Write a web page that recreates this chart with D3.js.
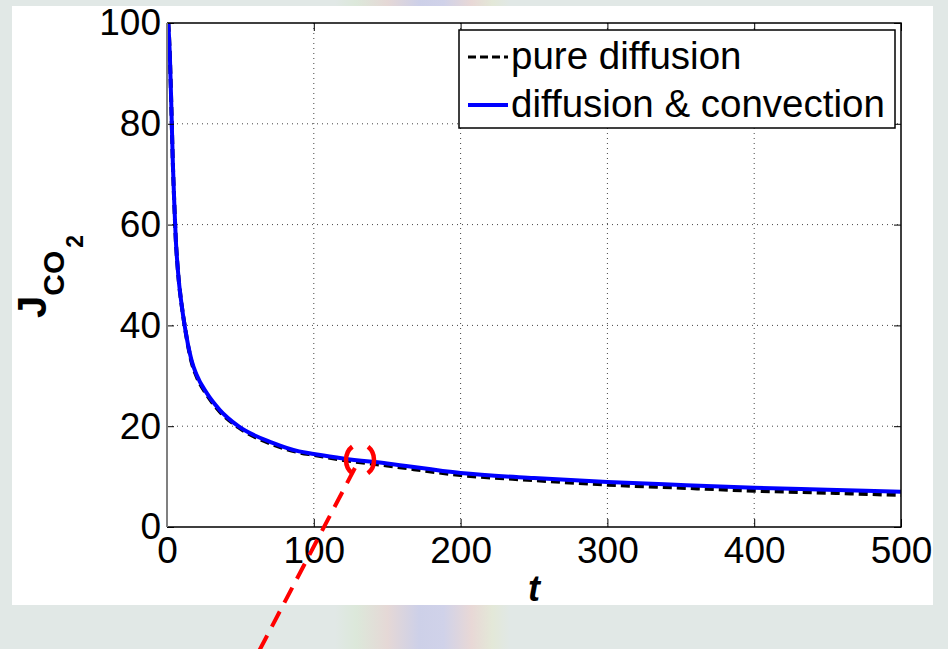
<!DOCTYPE html>
<html>
<head>
<meta charset="utf-8">
<script src="https://cdn.jsdelivr.net/npm/d3@7"></script>
<style>
    body { margin: 0; background: #e1e8e6; }
    svg { display: block; font-family: "Liberation Sans", Arial, sans-serif; }
</style>
</head>
<body>
<div id="chart"></div>
<script>
// data
const tValues     = [0.9, 2, 3, 4, 5, 6, 7, 8, 10, 12, 16.8, 20, 27, 36, 48.6, 72, 90, 100, 120, 150, 200, 250, 300, 350, 400, 450, 500];
const convection  = [100, 93, 83, 72, 64, 57, 52.5, 49, 44, 40, 33, 30.3, 26.6, 23.2, 20, 16.7, 15, 14.5, 13.6, 12.6, 10.7, 9.7, 8.95, 8.35, 7.8, 7.4, 7.0];
const diffusion   = [100, 93, 83, 72, 64, 57, 52.5, 49, 44, 40, 32.7, 30, 26.3, 22.9, 19.8, 16.4, 14.8, 14.3, 13.3, 12.2, 10.3, 9.3, 8.4, 7.8, 7.2, 6.8, 6.35];
const xTicks = [0, 100, 200, 300, 400, 500];
const yTicks = [0, 20, 40, 60, 80, 100];
const legendLabels = ['pure diffusion', 'diffusion & convection'];
// red annotation, in data units
const markCenter = {t: 131.5, j: 13.3};
const pointer = [{t: 128, j: 11.7}, {t: 62, j: -25}];

// layout
const W = 948, H = 649;
const margin = {t: 23, r: 47, b: 122, l: 167};
const w = W - margin.l - margin.r;
const h = H - margin.t - margin.b;

const svg = d3.select('#chart').append('svg')
    .attr('width', W)
    .attr('height', H);

// slide background with the blurred colour stripe
const defs = svg.append('defs');
const grad = defs.append('linearGradient')
    .attr('id', 'stripe')
    .attr('gradientUnits', 'userSpaceOnUse')
    .attr('x1', 335).attr('x2', 510).attr('y1', 0).attr('y2', 0);
[[0, '#e1e8e6'], [0.12, '#dce8da'], [0.3, '#e5d8d6'], [0.48, '#cdd0e8'], [0.62, '#d0d2e9'], [0.78, '#e8d8d6'], [0.9, '#e3e8d8'], [1, '#e1e8e6']]
    .forEach(s => grad.append('stop').attr('offset', s[0]).attr('stop-color', s[1]));
svg.append('rect').attr('width', W).attr('height', H).attr('fill', '#e1e8e6');
svg.append('rect').attr('x', 335).attr('width', 175).attr('height', H).attr('fill', 'url(#stripe)');
svg.append('rect')
    .attr('x', 12).attr('y', 6).attr('width', 921).attr('height', 599)
    .attr('fill', '#fff');

defs.append('clipPath').attr('id', 'plot-clip')
    .append('rect').attr('width', w).attr('height', h);

const plot = svg.append('g')
    .attr('transform', `translate(${margin.l},${margin.t})`);

// setting up scales
const scaleX = d3.scaleLinear().domain([0, 500]).range([0, w]);
const scaleY = d3.scaleLinear().domain([0, 100]).range([h, 0]);

// dotted grid
plot.selectAll('.grid-x')
    .data(xTicks.slice(1, -1))
    .enter().append('line')
    .attr('class', 'grid-x')
    .attr('x1', d => scaleX(d)).attr('x2', d => scaleX(d))
    .attr('y1', 0).attr('y2', h)
    .attr('stroke', '#444').attr('stroke-width', 1)
    .attr('stroke-dasharray', '1,4');
plot.selectAll('.grid-y')
    .data(yTicks.slice(1, -1))
    .enter().append('line')
    .attr('class', 'grid-y')
    .attr('x1', 0).attr('x2', w)
    .attr('y1', d => scaleY(d)).attr('y2', d => scaleY(d))
    .attr('stroke', '#444').attr('stroke-width', 1)
    .attr('stroke-dasharray', '1,4');

// lines
const rows = tValues.map((t, i) => ({t: t, a: diffusion[i], b: convection[i]}));
const lineA = d3.line().x(d => scaleX(d.t)).y(d => scaleY(d.a)).curve(d3.curveMonotoneX);
const lineB = d3.line().x(d => scaleX(d.t)).y(d => scaleY(d.b)).curve(d3.curveMonotoneX);

const lines = plot.append('g').attr('clip-path', 'url(#plot-clip)');
lines.append('path')
    .datum(rows)
    .attr('d', lineA)
    .attr('fill', 'none')
    .attr('stroke', '#000')
    .attr('stroke-width', 4)
    .attr('stroke-dasharray', '9,5');
lines.append('path')
    .datum(rows)
    .attr('d', lineB)
    .attr('fill', 'none')
    .attr('stroke', '#0000ff')
    .attr('stroke-width', 4);

// axes
const axisFont = g => g.selectAll('text')
    .attr('font-size', 37)
    .attr('font-family', '"Liberation Sans", Arial, sans-serif')
    .attr('fill', '#000');

plot.append('g')
    .attr('transform', `translate(0,${h})`)
    .call(d3.axisBottom(scaleX).tickValues(xTicks).tickSize(-8).tickPadding(10).tickSizeOuter(0))
    .call(axisFont)
    .call(g => g.select('.domain').remove());
plot.append('g')
    .call(d3.axisLeft(scaleY).tickValues(yTicks).tickSize(-7).tickPadding(6).tickSizeOuter(0))
    .call(axisFont)
    .call(g => g.select('.domain').remove());
plot.append('g')
    .call(d3.axisTop(scaleX).tickValues(xTicks).tickSize(-8).tickFormat('').tickSizeOuter(0))
    .call(g => g.select('.domain').remove());
plot.append('g')
    .attr('transform', `translate(${w},0)`)
    .call(d3.axisRight(scaleY).tickValues(yTicks).tickSize(-7).tickFormat('').tickSizeOuter(0))
    .call(g => g.select('.domain').remove());

// frame
plot.append('path')
    .attr('d', `M0,0H${w}V${h}H0`)
    .attr('fill', 'none').attr('stroke', '#000').attr('stroke-width', 1.5);
plot.append('line')
    .attr('x1', 0).attr('x2', 0).attr('y1', 0).attr('y2', h)
    .attr('stroke', '#808080').attr('stroke-width', 2);

// legend
const legend = plot.append('g').attr('transform', `translate(${w - 442},7)`);
legend.append('rect')
    .attr('width', 436).attr('height', 98)
    .attr('fill', '#fff').attr('stroke', '#000').attr('stroke-width', 1.5);
const items = legend.selectAll('.item')
    .data(legendLabels)
    .enter().append('g')
    .attr('class', 'item')
    .attr('transform', (d, i) => `translate(0,${27 + i * 48})`);
items.append('line')
    .attr('x1', 9).attr('x2', 49)
    .attr('stroke', (d, i) => i ? '#0000ff' : '#000')
    .attr('stroke-width', (d, i) => i ? 4 : 3)
    .attr('stroke-dasharray', (d, i) => i ? null : '8,4');
items.append('text')
    .attr('x', 52).attr('y', 12)
    .attr('font-size', 38.5)
    .text(d => d);

// axis titles
const yTitle = svg.append('text')
    .attr('transform', 'translate(46,318) rotate(-90)')
    .attr('font-weight', 'bold');
yTitle.append('tspan').attr('font-size', 40).text('J');
yTitle.append('tspan').attr('font-size', 30).attr('dy', 18).text('CO');
yTitle.append('tspan').attr('font-size', 23).attr('dx', 3).attr('dy', 19).text('2');

svg.append('text')
    .attr('x', margin.l + scaleX(250))
    .attr('y', 601)
    .attr('text-anchor', 'middle')
    .attr('font-size', 36)
    .attr('font-weight', 'bold')
    .attr('font-style', 'italic')
    .text('t');

// red annotation
const note = svg.append('g').attr('transform', `translate(${margin.l},${margin.t})`);
note.append('ellipse')
    .attr('cx', scaleX(markCenter.t)).attr('cy', scaleY(markCenter.j))
    .attr('rx', 14).attr('ry', 16)
    .attr('fill', 'none').attr('stroke', '#ff0000').attr('stroke-width', 4.5)
    .attr('stroke-dasharray', '30,17')
    .attr('stroke-dashoffset', -32);
note.append('line')
    .attr('x1', scaleX(pointer[0].t)).attr('y1', scaleY(pointer[0].j))
    .attr('x2', scaleX(pointer[1].t)).attr('y2', scaleY(pointer[1].j))
    .attr('stroke', '#ff0000').attr('stroke-width', 4)
    .attr('stroke-dasharray', '17,10');
</script>
</body>
</html>
